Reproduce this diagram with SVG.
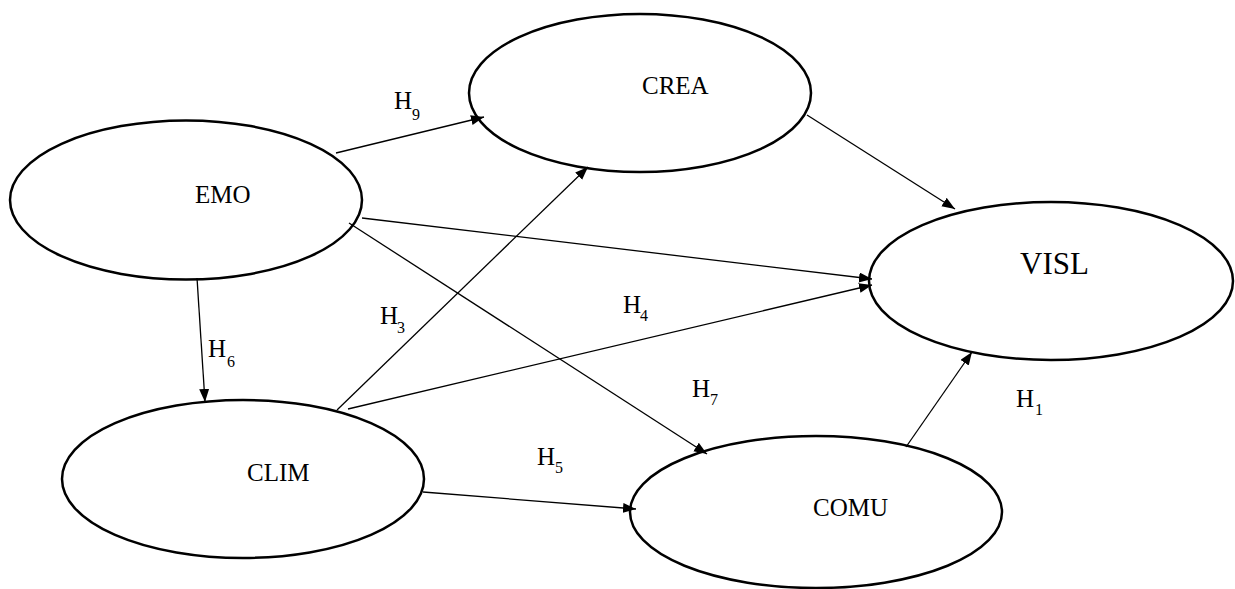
<svg xmlns="http://www.w3.org/2000/svg" width="1235" height="589" viewBox="0 0 1235 589">
<style>
.node ellipse{fill:#fff;stroke:#000;stroke-width:2.5}
.lbl{font-family:"Liberation Serif","Times New Roman",serif;font-size:25px;fill:#000}
.big{font-size:31px}
.h{font-family:"Liberation Serif","Times New Roman",serif;font-size:25px;fill:#000}
.sub{font-size:16px}
#connectors line{stroke:#000;stroke-width:1.3;fill:none;marker-end:url(#arr)}
</style>
<defs>
<marker id="arr" markerUnits="userSpaceOnUse" markerWidth="14" markerHeight="11" refX="13" refY="5" orient="auto">
<path d="M0,0 L13,5 L0,10 z" fill="#000"/>
</marker>
</defs>
<rect width="1235" height="589" fill="#fff"/>
<g id="nodes">
<g id="CREA" class="node"><ellipse cx="640" cy="93" rx="171" ry="79"/><text class="lbl" x="642" y="94">CREA</text></g>
<g id="EMO" class="node"><ellipse cx="186" cy="200" rx="176" ry="79.5"/><text class="lbl" x="195" y="203">EMO</text></g>
<g id="VISL" class="node"><ellipse cx="1051" cy="281" rx="182" ry="79"/><text class="lbl big" x="1020" y="274">VISL</text></g>
<g id="CLIM" class="node"><ellipse cx="243" cy="479" rx="181" ry="79"/><text class="lbl" x="247" y="481">CLIM</text></g>
<g id="COMU" class="node"><ellipse cx="816" cy="512" rx="186" ry="76"/><text class="lbl" x="813" y="516">COMU</text></g>
</g>
<g id="connectors">
<line x1="336" y1="153" x2="484" y2="117"/>
<line x1="807" y1="115" x2="955" y2="209"/>
<line x1="362" y1="218" x2="872" y2="279"/>
<line x1="349" y1="223" x2="707" y2="454"/>
<line x1="197" y1="278" x2="205" y2="402"/>
<line x1="337" y1="410" x2="588" y2="167"/>
<line x1="348" y1="409" x2="872" y2="285"/>
<line x1="423" y1="492" x2="636" y2="509"/>
<line x1="906" y1="447" x2="972" y2="352"/>
</g>
<g id="labels">
<text class="h" x="394" y="109">H<tspan class="sub" x="412" y="120">9</tspan></text>
<text class="h" x="208" y="357">H<tspan class="sub" x="227" y="367">6</tspan></text>
<text class="h" x="380" y="324">H<tspan class="sub" x="397" y="333">3</tspan></text>
<text class="h" x="623" y="313">H<tspan class="sub" x="640" y="321">4</tspan></text>
<text class="h" x="692" y="397">H<tspan class="sub" x="710" y="405">7</tspan></text>
<text class="h" x="1016" y="407">H<tspan class="sub" x="1035" y="415">1</tspan></text>
<text class="h" x="537" y="465">H<tspan class="sub" x="555" y="473">5</tspan></text>
</g>
</svg>
